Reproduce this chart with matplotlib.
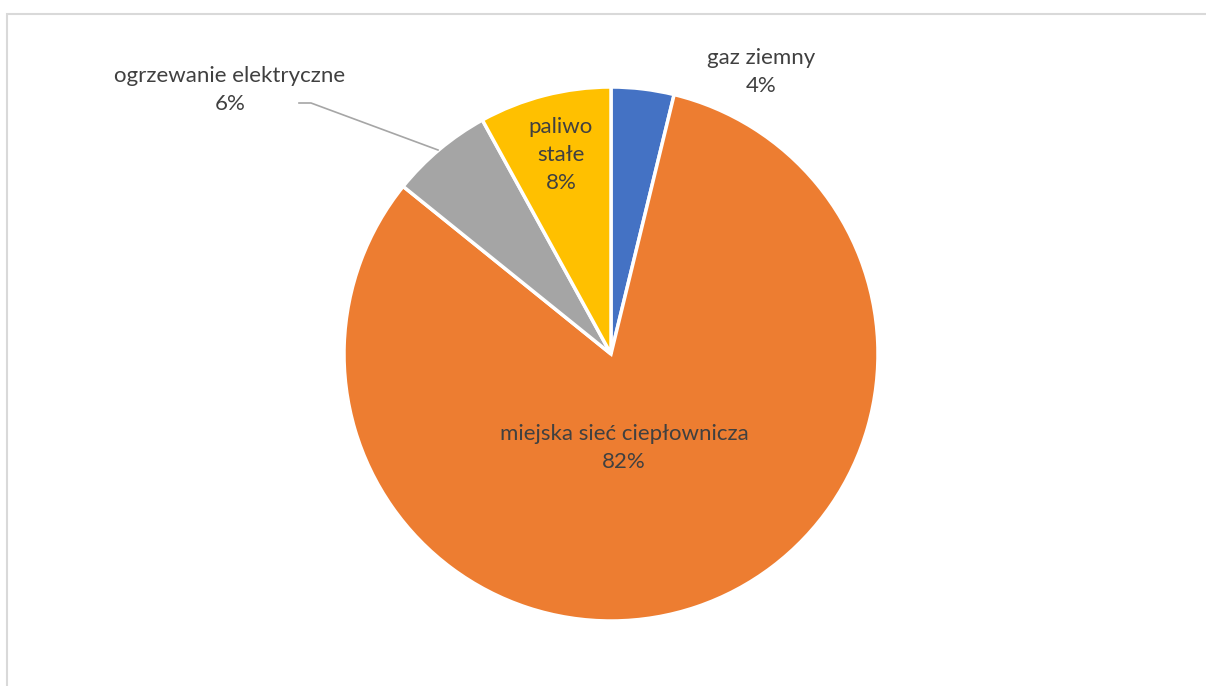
import matplotlib
matplotlib.use("Agg")
from matplotlib import pyplot as plt
from matplotlib.patches import Rectangle

# data (clockwise from 12 o'clock)
categories = ["gaz ziemny", "miejska sieć ciepłownicza", "ogrzewanie elektryczne", "paliwo stałe"]
shares = [3.8, 82.0, 6.2, 8.0]
colors = ["#4472C4", "#ED7D31", "#A5A5A5", "#FFC000"]

W, H = 1206, 686
TEXT_COLOR = "#404040"
plt.rcParams["font.family"] = ["Lato", "DejaVu Sans"]

fig = plt.figure(figsize=(W / 100, H / 100), dpi=100)
ax = fig.add_axes([0, 0, 1, 1])

# light frame around the chart area
ax.add_patch(Rectangle((7, -20), W + 20, H - 14 + 20, fill=False, edgecolor="#D9D9D9", linewidth=1.5))

wedges, _ = ax.pie(shares, colors=colors, startangle=90, counterclock=False,
                   center=(611, H - 354), radius=267, frame=True,
                   wedgeprops=dict(edgecolor="white", linewidth=2.5))
ax.set_xlim(0, W)
ax.set_ylim(0, H)
ax.axis("off")

total = sum(shares)
pct = [f"{round(v / total * 100)}%" for v in shares]

label_pos = [(761, 72), (624, 448), (230, 90), (561, 155)]
label_text = [
    f"{categories[0]}\n{pct[0]}",
    f"{categories[1]}\n{pct[1]}",
    f"{categories[2]}\n{pct[2]}",
    "paliwo\nstałe\n" + pct[3],
]
for (px, py), txt in zip(label_pos, label_text):
    ax.text(px, H - py, txt, ha="center", va="center", fontsize=16,
            color=TEXT_COLOR, linespacing=1.5)

# leader line for the small grey slice
ax.plot([299, 311, 438], [H - 103, H - 103, H - 150], color="#A6A6A6", linewidth=1.2)

fig.savefig("out.png", dpi=100)
